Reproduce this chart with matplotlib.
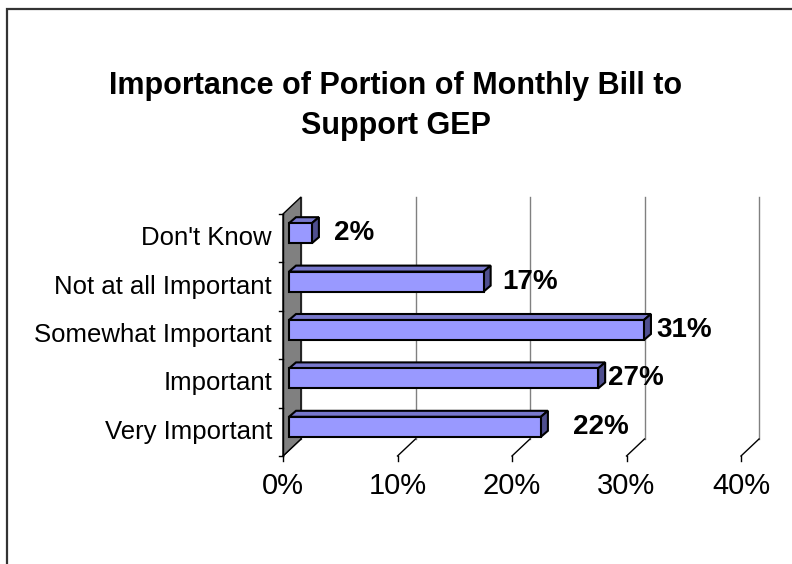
import matplotlib.pyplot as plt
from matplotlib.patches import Polygon, Rectangle

categories = ['Very Important', 'Important', 'Somewhat Important',
              'Not at all Important', "Don't Know"]
values = [22, 27, 31, 17, 2]
value_labels = ['22%', '27%', '31%', '17%', '2%']
ticks = [0, 10, 20, 30, 40]
tick_labels = ['0%', '10%', '20%', '30%', '40%']

plt.rcParams['font.family'] = ['Liberation Sans', 'DejaVu Sans']

W, H = 792, 564
fig = plt.figure(figsize=(W / 100, H / 100), dpi=100)

# front plane of the plot: 0% at x=283px, 40% at x=741px, categories 214..456px
ax = fig.add_axes([283 / W, 1 - 456 / H, 458 / W, 242 / H])
ax.set_xlim(0, 40)
ax.set_ylim(-0.5, 4.5)
ax.axis('off')

px_x = 40 / 458      # percent per pixel
px_y = 1 / 48.4      # category per pixel
dx, dy = 18 * px_x, 17 * px_y   # depth of the 3d box

# gray side wall
ax.add_patch(Polygon([(0, -0.5), (0, 4.5), (dx, 4.5 + dy), (dx, -0.5 + dy)],
                     closed=True, facecolor='#808080', edgecolor='black',
                     lw=1, clip_on=False, zorder=1))

# gridlines on the back wall and the floor
for t, tl in zip(ticks, tick_labels):
    ax.plot([t + dx, t + dx], [-0.5 + dy, 4.5 + dy], color='#808080', lw=1,
            clip_on=False, zorder=0)
    ax.plot([t, t + dx], [-0.5, -0.5 + dy], color='black', lw=1,
            clip_on=False, zorder=0)
    ax.plot([t, t], [-0.5, -0.5 - 5 * px_y], color='black', lw=1,
            clip_on=False, zorder=0)
    ax.text(t, -0.5 - 30 * px_y, tl, ha='center', va='center', fontsize=21)

# left axis with tick marks at category boundaries
ax.plot([0, 0], [-0.5, 4.5], color='black', lw=1, clip_on=False, zorder=2)
for k in range(6):
    ax.plot([-4 * px_x, 0], [k - 0.5, k - 0.5], color='black', lw=1,
            clip_on=False)

# bars
bh = 20 * px_y
fx, fy = 6 * px_x, 5 * px_y     # front face offset
bx, by = 13 * px_x, 11 * px_y   # back face offset
label_gap = [2.8, 0.9, 1.1, 1.6, 1.9]
for i, (v, lab) in enumerate(zip(values, value_labels)):
    y0 = i - bh / 2 + fy
    y1 = i + bh / 2 + fy
    x0, x1 = fx, fx + v
    top = [(x0, y1), (x1, y1), (x1 + bx - fx, y1 + by - fy), (x0 + bx - fx, y1 + by - fy)]
    side = [(x1, y0), (x1, y1), (x1 + bx - fx, y1 + by - fy), (x1 + bx - fx, y0 + by - fy)]
    ax.add_patch(Polygon(top, closed=True, facecolor='#7878CC',
                         edgecolor='black', lw=1.5, clip_on=False, zorder=3))
    ax.add_patch(Polygon(side, closed=True, facecolor='#4F4F8F',
                         edgecolor='black', lw=1.5, clip_on=False, zorder=3))
    ax.add_patch(Rectangle((x0, y0), v, bh, facecolor='#9999FF',
                           edgecolor='black', lw=1.5, clip_on=False, zorder=4))
    ax.text(x1 + label_gap[i], i + fy, lab, ha='left', va='center',
            fontsize=20, fontweight='bold')
    ax.text(-11 * px_x, i, categories[i], ha='right', va='center',
            fontsize=18.5)

fig.text(0.5, 1 - 94 / H, 'Importance of Portion of Monthly Bill to',
         ha='center', va='baseline', fontsize=22, fontweight='bold')
fig.text(0.5, 1 - 134 / H, 'Support GEP',
         ha='center', va='baseline', fontsize=22, fontweight='bold')

# chart area border
fig.patches.append(Rectangle((7 / W, -0.1), 1.1, 1 - 9 / H + 0.1,
                             transform=fig.transFigure, fill=False,
                             edgecolor='#333333', lw=1.6))

fig.savefig('out.png', dpi=100)
